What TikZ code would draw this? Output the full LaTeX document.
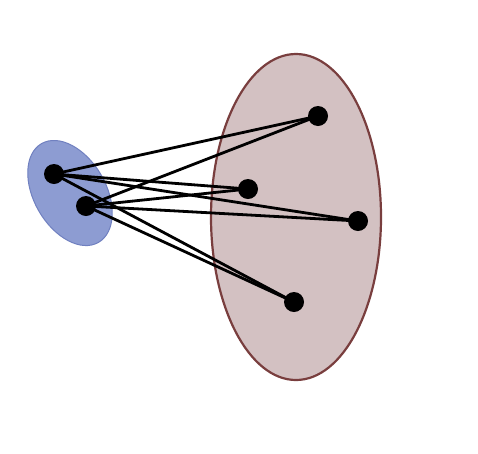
\documentclass[tikz,border=0pt]{standalone}
\usepackage{tikz}
\usetikzlibrary{shapes.geometric}
\definecolor{setpink}{RGB}{211,193,194}
\definecolor{setbrown}{RGB}{121,62,62}
\definecolor{setblue}{RGB}{141,156,210}
\definecolor{setblueline}{RGB}{112,128,192}
\tikzset{
  bigset/.style={ellipse, draw=setbrown, line width=2.2pt, fill=setpink,
                 minimum width=170pt, minimum height=326pt, inner sep=0pt},
  smallset/.style={ellipse, draw=setblueline, line width=1pt, fill=setblue,
                   minimum width=114pt, minimum height=72pt, inner sep=0pt},
  vertex/.style={circle, fill=black, minimum size=20pt, inner sep=0pt},
  link/.style={black, line width=2.8pt},
}
\begin{document}
\begin{tikzpicture}[x=1pt,y=-1pt]
  \path[use as bounding box] (0,0) rectangle (478,453);

  % the two sets
  \node[bigset] (right) at (296,217) {};
  \node[smallset, rotate=-60] (left) at (70,193) {};

  % points of the small set
  \node[vertex] (a) at (54,174) {};
  \node[vertex] (b) at (86,206) {};

  % points of the large set
  \node[vertex] (p) at (318,116) {};
  \node[vertex] (q) at (248,189) {};
  \node[vertex] (r) at (358,221) {};
  \node[vertex] (s) at (294,302) {};

  \foreach \u in {a,b}
    \foreach \v in {p,q,r,s}
      \draw[link] (\u.center) -- (\v.center);
\end{tikzpicture}
\end{document}
